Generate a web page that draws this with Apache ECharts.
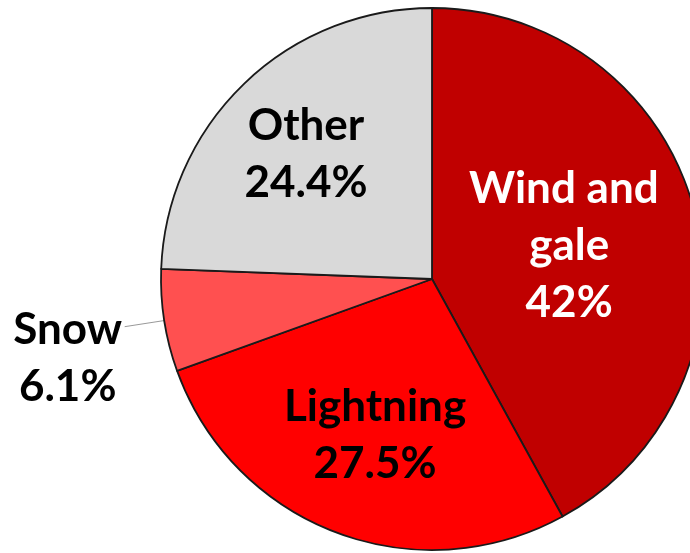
<!DOCTYPE html>
<html>
<head>
<meta charset="utf-8">
<script src="https://cdn.jsdelivr.net/npm/echarts@6/dist/echarts.min.js"></script>
<style>
  html, body { margin: 0; padding: 0; background: #ffffff; }
  #chart { width: 690px; height: 553px; }
</style>
</head>
<body>
<div id="chart"></div>
<script>
// Share of damage causes (percent), clockwise from 12 o'clock
const categories = ['Wind and gale', 'Lightning', 'Snow', 'Other'];
const shares = [42, 27.5, 6.1, 24.4];

// Presentation settings per slice
const sliceColors = ['#c00000', '#ff0000', '#ff5050', '#d9d9d9'];
const labelColors = ['#ffffff', '#000000', '#000000', '#000000'];
const labelShift = [[3, 1], [-8, 27], [0, 0], [-30, -25]];

const FONT = 'Lato, "Open Sans", sans-serif';
const WEIGHT = 'bold';
const SIZE = 44;
const LINE = 57;

const chart = echarts.init(document.getElementById('chart'), null, { renderer: 'canvas' });

const data = categories.map((name, i) => {
  const item = {
    name: name,
    value: shares[i],
    itemStyle: { color: sliceColors[i] },
    label: { color: labelColors[i] }
  };
  if (name === 'Snow') {
    item.label = {
      position: 'outside',
      color: labelColors[i],
      padding: [64, 0, 0, 0],
      distanceToLabelLine: 3,
      formatter: p => '{t|' + p.name + '}\n{t|' + p.value + '%}',
      rich: {
        t: {
          width: 108, align: 'center', color: '#000000',
          fontFamily: FONT, fontWeight: WEIGHT, fontSize: SIZE, lineHeight: LINE
        }
      }
    };
    item.labelLine = {
      show: true, length: 40, length2: 0,
      lineStyle: { color: '#999999', width: 1 }
    };
  }
  if (name === 'Wind and gale') {
    item.label.width = 210;
    item.label.overflow = 'break';
  }
  return item;
});

chart.setOption({
  backgroundColor: '#ffffff',
  animation: false,
  series: [{
    type: 'pie',
    center: [432, 279],
    radius: [0, 271],
    startAngle: 90,
    clockwise: true,
    avoidLabelOverlap: false,
    label: {
      show: true,
      position: 'inside',
      fontFamily: FONT,
      fontWeight: WEIGHT,
      fontSize: SIZE,
      lineHeight: LINE,
      align: 'center',
      bleedMargin: 0,
      formatter: p => p.name + '\n' + p.value + '%'
    },
    labelLine: { show: false },
    labelLayout: p => ({ dx: labelShift[p.dataIndex][0], dy: labelShift[p.dataIndex][1] }),
    itemStyle: { borderColor: '#1a1a1a', borderWidth: 1.8 },
    emphasis: { disabled: true },
    data: data
  }]
});
</script>
</body>
</html>
